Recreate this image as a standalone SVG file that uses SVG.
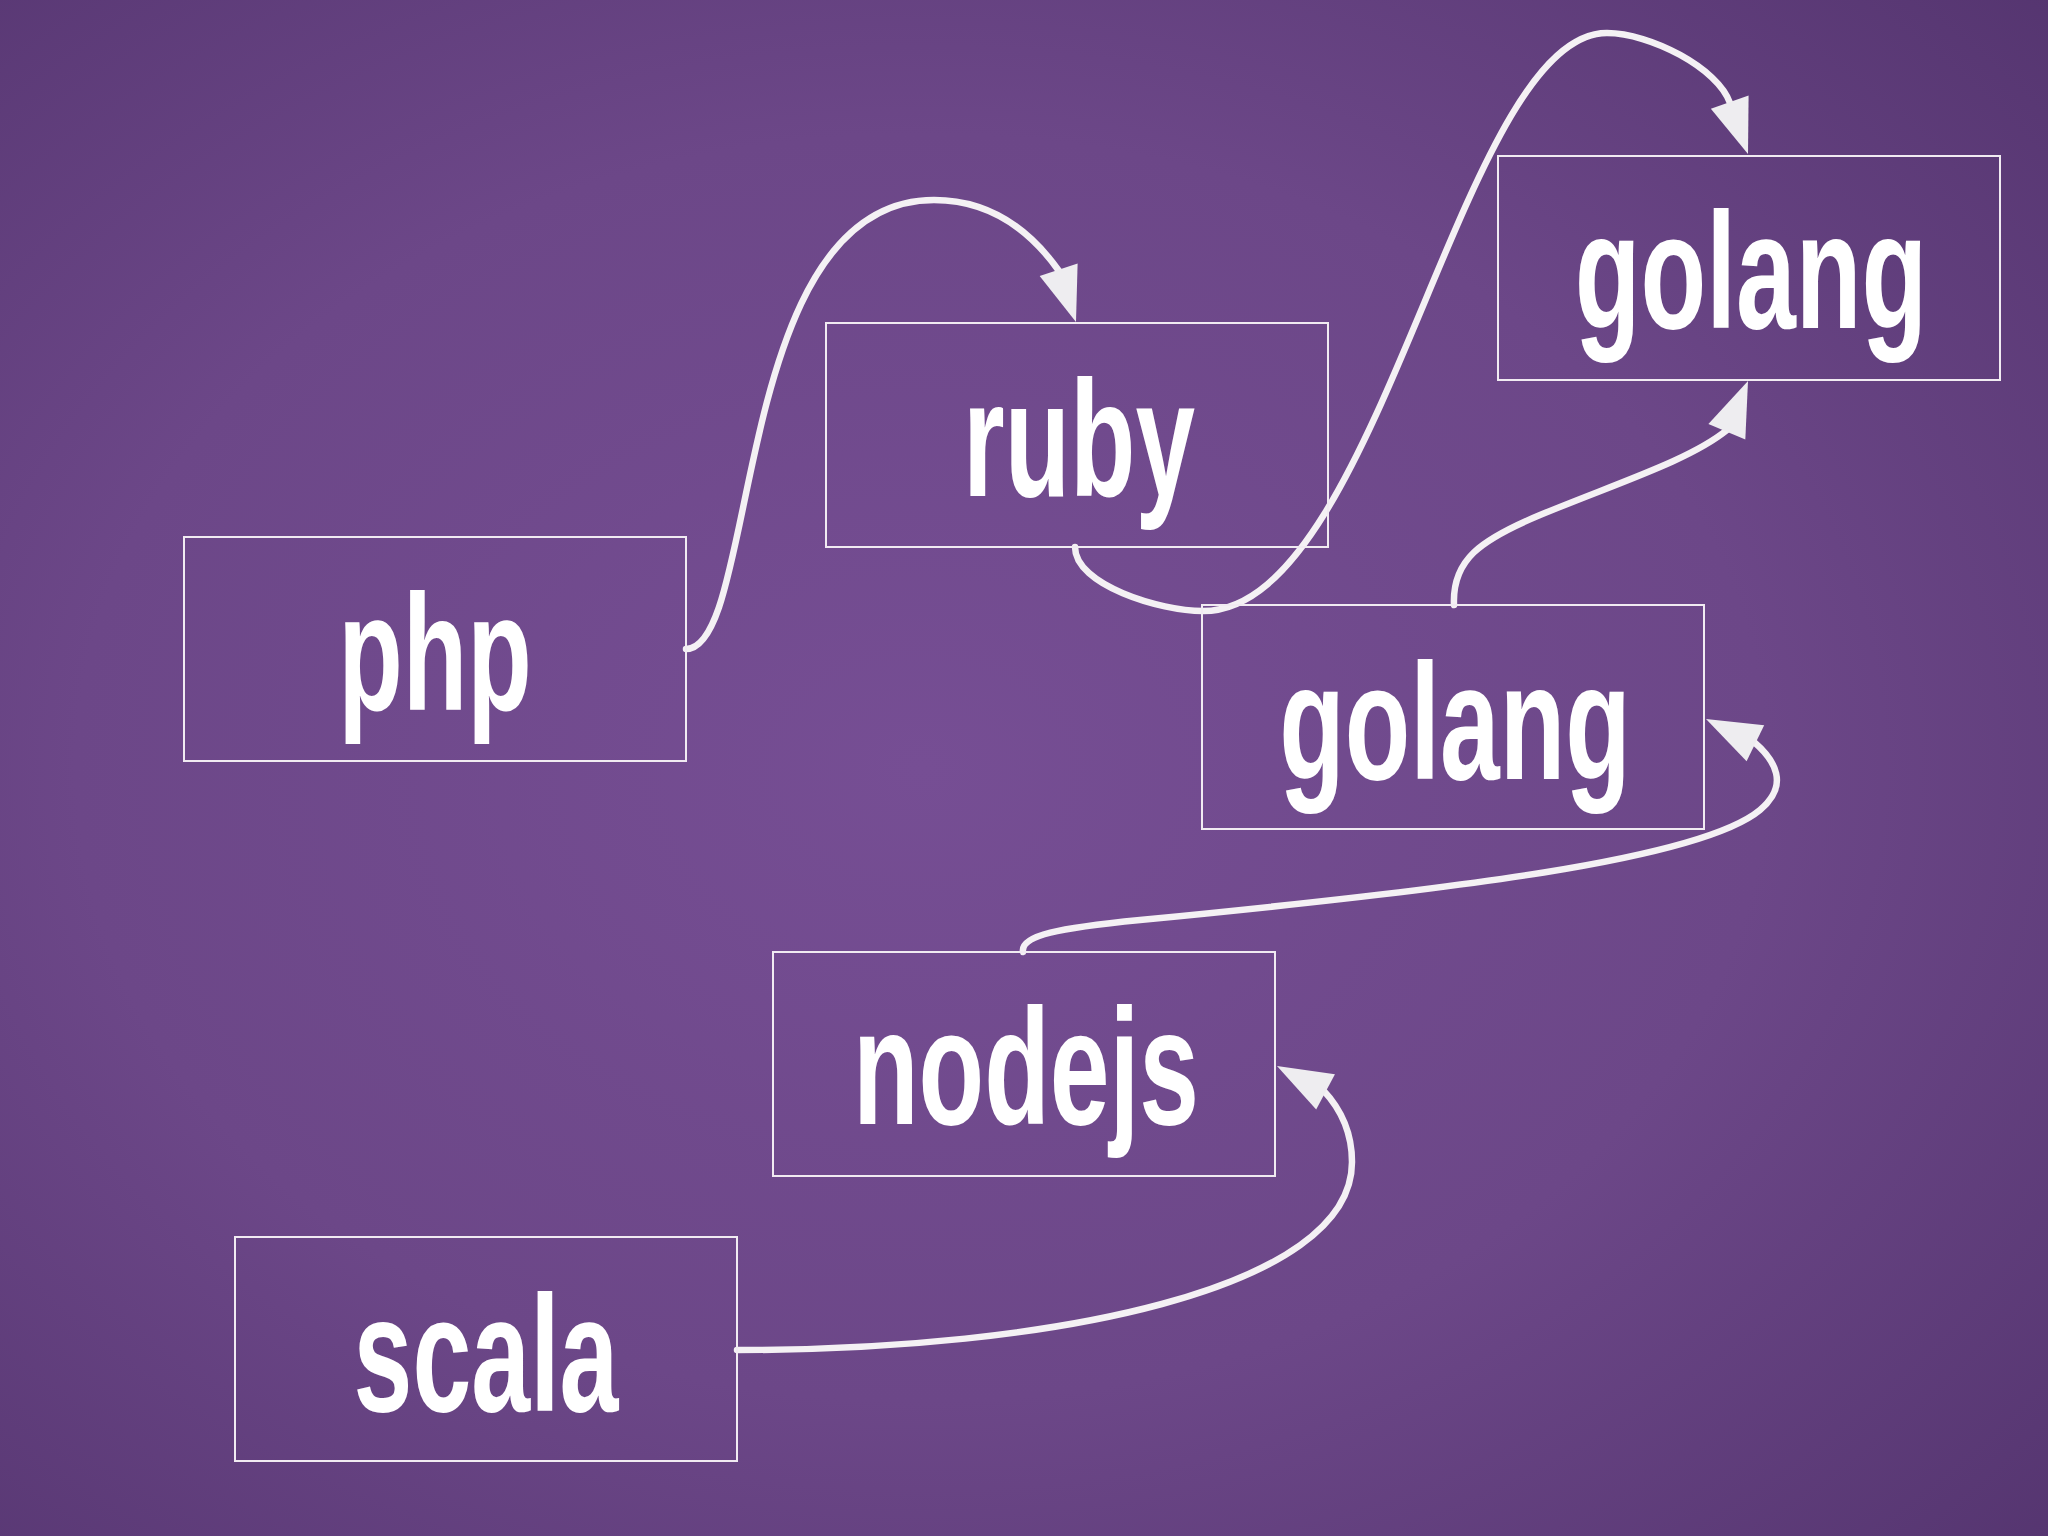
<svg xmlns="http://www.w3.org/2000/svg" width="2048" height="1536" viewBox="0 0 2048 1536">
<defs>
<radialGradient id="bg" cx="45%" cy="50%" r="75%">
<stop offset="0" stop-color="#764e94"/>
<stop offset="0.55" stop-color="#6c4788"/>
<stop offset="1" stop-color="#553570"/>
</radialGradient>
<path id="ah" d="M0,0 L-55,-20 L-55,20 Z"/>
<style>
.box{fill:none;stroke:#f1ebf2;stroke-width:2}
.lbl{fill:#ffffff;font-family:"Liberation Sans",sans-serif;font-weight:bold;font-size:166px;text-anchor:middle}
.edge{fill:none;stroke:#f4f1f4;stroke-width:6.5;stroke-linecap:round}
.head{fill:#eeedf0}
</style>
</defs>
<rect width="2048" height="1536" fill="url(#bg)"/>
<g id="connectors">
<path class="edge" d="M686,649 C760,649 730,200 934,200 C990,200 1030,230 1059,271"/>
<path class="edge" d="M1075,547 C1075,585 1160,611 1203,611 C1380,611 1460,33 1607,33 C1650,33 1718,68 1730,103"/>
<path class="edge" d="M1454,605 C1452,560 1480,540 1540,515 C1620,482 1690,460 1727,430"/>
<path class="edge" d="M1023,952 C1020,935 1060,928 1140,920 C1450,890 1700,860 1760,810 C1790,785 1775,760 1754,742"/>
<path class="edge" d="M737,1350 C1050,1350 1352,1290 1352,1162 C1352,1130 1340,1108 1323,1090"/>
<use href="#ah" class="head" transform="translate(1076,322) rotate(71.6)"/>
<use href="#ah" class="head" transform="translate(1748,154) rotate(70.6)"/>
<use href="#ah" class="head" transform="translate(1748,381) rotate(-67.4)"/>
<use href="#ah" class="head" transform="translate(1706,719) rotate(206.1)"/>
<use href="#ah" class="head" transform="translate(1277,1066) rotate(208)"/>
</g>
<g id="node-php">
<rect class="box" x="184" y="537" width="502" height="224"/>
<text class="lbl" transform="translate(435,710) scale(0.637,1)">php</text>
</g>
<g id="node-ruby">
<rect class="box" x="826" y="323" width="502" height="224"/>
<text class="lbl" transform="translate(1079,496) scale(0.645,1)">ruby</text>
</g>
<g id="node-golang-top">
<rect class="box" x="1498" y="156" width="502" height="224"/>
<text class="lbl" transform="translate(1751,328) scale(0.648,1)">golang</text>
</g>
<g id="node-golang-mid">
<rect class="box" x="1202" y="605" width="502" height="224"/>
<text class="lbl" transform="translate(1455,779) scale(0.646,1)">golang</text>
</g>
<g id="node-nodejs">
<rect class="box" x="773" y="952" width="502" height="224"/>
<text class="lbl" transform="translate(1026,1124) scale(0.647,1)">nodejs</text>
</g>
<g id="node-scala">
<rect class="box" x="235" y="1237" width="502" height="224"/>
<text class="lbl" transform="translate(486,1411) scale(0.638,1)">scala</text>
</g>
</svg>
